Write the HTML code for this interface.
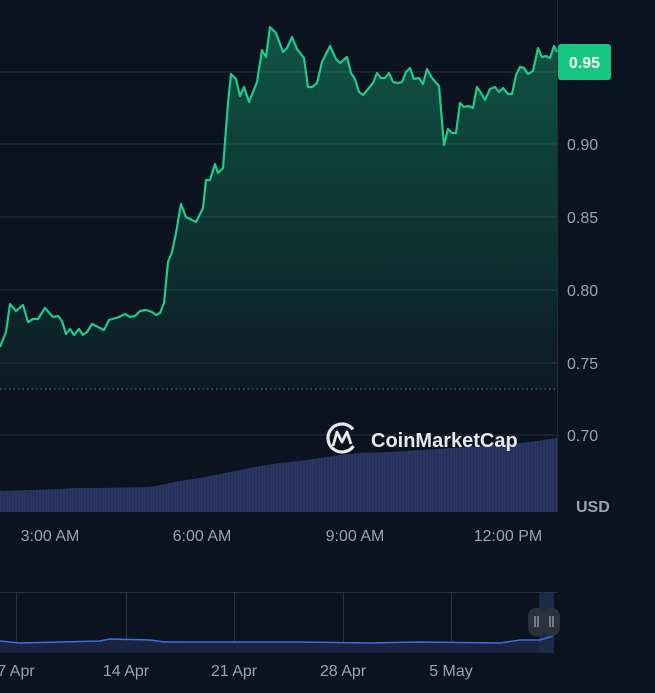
<!DOCTYPE html>
<html><head><style>
body{margin:0;background:#0b1220;width:655px;height:693px;overflow:hidden}
svg{display:block}
text{font-family:"Liberation Sans",sans-serif}
</style></head><body>
<svg width="655" height="693" viewBox="0 0 655 693">
<defs>
<linearGradient id="g" x1="0" y1="0" x2="0" y2="1">
<stop offset="0" stop-color="#16a673" stop-opacity="0.45"/>
<stop offset="1" stop-color="#16a673" stop-opacity="0.05"/>
</linearGradient>
<pattern id="vb" width="3" height="10" patternUnits="userSpaceOnUse">
<rect width="3" height="10" fill="#2a3563"/><rect x="2.3" width="0.7" height="10" fill="#222b52"/>
</pattern>
</defs>
<rect width="655" height="693" fill="#0b1220"/>
<g stroke="#222a36" stroke-width="1.2">
<line x1="0" y1="72" x2="557" y2="72"/>
<line x1="0" y1="144" x2="557" y2="144"/>
<line x1="0" y1="217" x2="557" y2="217"/>
<line x1="0" y1="290" x2="557" y2="290"/>
<line x1="0" y1="363" x2="557" y2="363"/>
<line x1="0" y1="435" x2="557" y2="435"/>
</g>
<line x1="557.5" y1="0" x2="557.5" y2="512" stroke="#222a36"/>
<line x1="0" y1="389" x2="557" y2="389" stroke="#6b7280" stroke-dasharray="1.5 3"/>
<polygon fill="url(#vb)" points="0,491 60,489 75,488 100,488 150,487 165,484 180,481 200,478 230,472 240,470 260,466 280,463 300,461 320,458 340,455 360,453 390,452 420,450 450,448 480,446 510,444 530,442 557,438 557,512 0,512"/>
<path id="p" d="M0,347 L6,332 10,304 16,311 23,305 28,322 33,319 38,319 45,308 53,317 58,316 62,321 66,334 70,329 74,335 79,329 83,335 87,332 92,324 104,330 109,320 119,317 125,314 130,317 135,316 140,311 146,310 152,312 156,315 160,313 164,303 168,262 172,252 176,233 181,204 186,217 196,222 203,208 206,180 210,180 215,164 218,173 223,168 228,103 231,74 236,79 240,96 244,87 249,102 257,82 262,50 266,57 270,27 276,33 283,52 287,48 292,37 297,49 304,58 308,87 312,87 317,83 322,62 330,46 336,59 340,63 347,57 351,73 355,79 359,92 363,95 373,83 377,73 381,78 385,78 389,73 393,82 398,83 402,82 406,72 410,68 414,79 419,78 423,84 427,69 432,78 439,86 444,145 448,129 452,133 456,133 460,103 464,107 469,106 473,108 477,87 481,93 485,100 490,89 495,87 499,92 503,88 508,94 512,94 516,75 520,67 524,68 528,74 533,71 538,48 542,57 546,56 550,58 554,46 557,52" fill="none"/>
<path d="M0,347 L6,332 10,304 16,311 23,305 28,322 33,319 38,319 45,308 53,317 58,316 62,321 66,334 70,329 74,335 79,329 83,335 87,332 92,324 104,330 109,320 119,317 125,314 130,317 135,316 140,311 146,310 152,312 156,315 160,313 164,303 168,262 172,252 176,233 181,204 186,217 196,222 203,208 206,180 210,180 215,164 218,173 223,168 228,103 231,74 236,79 240,96 244,87 249,102 257,82 262,50 266,57 270,27 276,33 283,52 287,48 292,37 297,49 304,58 308,87 312,87 317,83 322,62 330,46 336,59 340,63 347,57 351,73 355,79 359,92 363,95 373,83 377,73 381,78 385,78 389,73 393,82 398,83 402,82 406,72 410,68 414,79 419,78 423,84 427,69 432,78 439,86 444,145 448,129 452,133 456,133 460,103 464,107 469,106 473,108 477,87 481,93 485,100 490,89 495,87 499,92 503,88 508,94 512,94 516,75 520,67 524,68 528,74 533,71 538,48 542,57 546,56 550,58 554,46 557,52 L557,389 L0,389 Z" fill="url(#g)"/>
<use href="#p" stroke="#1fcb8b" stroke-width="2.2" stroke-linejoin="round"/>
<rect x="558" y="44" width="53" height="36" rx="3" fill="#16c784"/>
<text x="584.5" y="68" fill="#fff" font-size="16" font-weight="bold" text-anchor="middle">0.95</text>
<g fill="#9aa3b2" font-size="16">
<text x="567" y="150">0.90</text>
<text x="567" y="223">0.85</text>
<text x="567" y="296">0.80</text>
<text x="567" y="369">0.75</text>
<text x="567" y="441">0.70</text>
<text x="576" y="512" font-weight="bold">USD</text>
<text x="50" y="541" text-anchor="middle">3:00 AM</text>
<text x="202" y="541" text-anchor="middle">6:00 AM</text>
<text x="355" y="541" text-anchor="middle">9:00 AM</text>
<text x="508" y="541" text-anchor="middle">12:00 PM</text>
<text x="16" y="676" text-anchor="middle">7 Apr</text>
<text x="126" y="676" text-anchor="middle">14 Apr</text>
<text x="234" y="676" text-anchor="middle">21 Apr</text>
<text x="343" y="676" text-anchor="middle">28 Apr</text>
<text x="451" y="676" text-anchor="middle">5 May</text>
</g>
<g fill="none" stroke="#e5e7eb" stroke-width="3.2">
<circle cx="342" cy="438" r="14" stroke-dasharray="70 18" transform="rotate(35 342 438)"/>
<path d="M333,446 L337,432 L342,442 L347,432 L351,444" stroke-width="2.8" stroke-linejoin="round"/>
</g>
<text x="371" y="447" fill="#e5e7eb" font-size="20" font-weight="bold">CoinMarketCap</text>
<line x1="0" y1="592.5" x2="557" y2="592.5" stroke="#2a3140"/>
<g stroke="#2a3140"><line x1="16.5" y1="593" x2="16.5" y2="653"/><line x1="126.5" y1="593" x2="126.5" y2="653"/><line x1="234.5" y1="593" x2="234.5" y2="653"/><line x1="343.5" y1="593" x2="343.5" y2="653"/><line x1="451.5" y1="593" x2="451.5" y2="653"/></g>
<polygon points="0,641 20,643 60,642 100,641 110,639 150,640 165,642 250,642 300,642 370,643 420,642 500,643 520,640 540,640 553,636 553,653 0,653" fill="#1a2340"/>
<rect x="539" y="593" width="15" height="60" fill="#1c2a4a"/>
<polyline points="0,641 20,643 60,642 100,641 110,639 150,640 165,642 250,642 300,642 370,643 420,642 500,643 520,640 540,640 553,636" fill="none" stroke="#3b6fe0" stroke-width="1.5"/>
<rect x="528" y="608" width="17" height="28" rx="8" fill="#2b313c"/>
<rect x="543" y="608" width="17" height="28" rx="8" fill="#2b313c"/>
<g stroke="#c0c5ce" stroke-width="1"><line x1="535" y1="616" x2="535" y2="627"/><line x1="538" y1="616" x2="538" y2="627"/><line x1="550" y1="616" x2="550" y2="627"/><line x1="553" y1="616" x2="553" y2="627"/></g>
</svg>
</body></html>
